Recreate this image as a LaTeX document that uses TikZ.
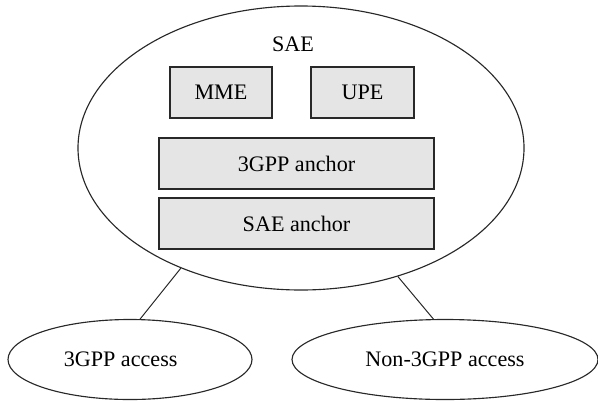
\documentclass[tikz,border=0pt]{standalone}
\usepackage{fontspec}
\setmainfont{Liberation Serif}
\usetikzlibrary{shapes.geometric}
\definecolor{boxfill}{RGB}{229,229,229}
\definecolor{edge}{RGB}{40,40,40}
\begin{document}
\begin{tikzpicture}[x=0.75pt,y=-0.75pt,
  every node/.style={font=\fontsize{16.6}{19}\selectfont, text=black},
  oval/.style={ellipse, draw=edge, line width=0.85pt, inner sep=0pt},
  blk/.style={rectangle, draw=edge, fill=boxfill, line width=0.9pt, inner sep=0pt},
  link/.style={draw=edge, line width=0.75pt}]
\useasboundingbox (0,0) rectangle (598,400);
\node[oval, minimum width=446*0.75pt, minimum height=284*0.75pt] (sae) at (301,148) {};
\node (saelabel) at (293,44) {SAE};
\node[blk, minimum width=102*0.75pt, minimum height=51*0.75pt] (mme) at (221,92.5) {MME};
\node[blk, minimum width=103*0.75pt, minimum height=51*0.75pt] (upe) at (362.5,92.5) {UPE};
\node[blk, minimum width=275*0.75pt, minimum height=51*0.75pt] (gpp) at (296.5,163.5) {3GPP anchor};
\node[blk, minimum width=275*0.75pt, minimum height=51*0.75pt] (anchor) at (296.5,223.5) {SAE anchor};
\node[oval, minimum width=244*0.75pt, minimum height=80*0.75pt] (acc) at (130,359.5) {\hspace*{-14pt}3GPP access};
\node[oval, minimum width=306*0.75pt, minimum height=80*0.75pt] (nacc) at (445,359.5) {Non-3GPP access};
\draw[link] (sae.225.7) -- (acc.76);
\draw[link] (sae.307.7) -- (nacc.106.7);
\end{tikzpicture}
\end{document}
